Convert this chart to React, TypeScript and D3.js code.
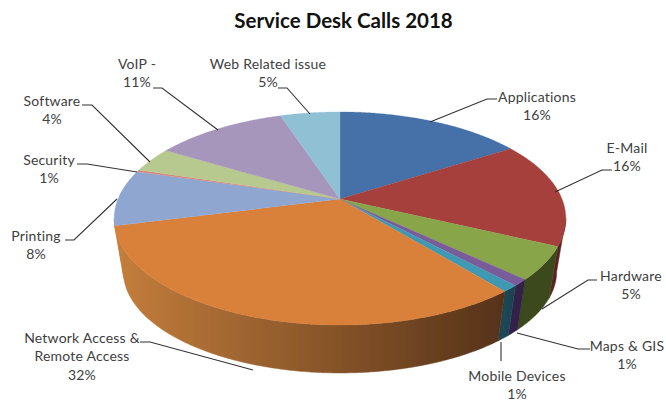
import React from "react";
import * as d3 from "d3";

const categories = ["Applications", "E-Mail", "Hardware", "Maps & GIS", "Mobile Devices", "Network Access & Remote Access", "Printing", "Security", "Software", "VoIP -", "Web Related issue"];
const values = [16, 16, 5, 1, 1, 32, 8.5, 0.3, 3.8, 11.3, 5.1];
const percentLabels = ["16%", "16%", "5%", "1%", "1%", "32%", "8%", "1%", "4%", "11%", "5%"];
const topColors = ["#4470a8", "#a5403e", "#89a54a", "#7a5b9a", "#3f99b3", "#d9803b", "#8fa7d0", "#d58a80", "#b7c98f", "#a696bb", "#8fc0d3"];
const wallStart = ["#4470a8", "#5c2020", "#3a4a1e", "#33234a", "#1c4654", "#c47e3c", "#c47e3c", "#d58a80", "#b7c98f", "#a696bb", "#8fc0d3"];
const wallEnd = ["#4470a8", "#5c2020", "#3a4a1e", "#2e2040", "#1c4250", "#553219", "#c47e3c", "#d58a80", "#b7c98f", "#a696bb", "#8fc0d3"];

type Lay = { x: number; y: number[]; lines: string[]; leader: [number, number][] };
const layout: Lay[] = [
  { x: 537, y: [102, 120], lines: ["Applications"], leader: [[497, 99], [487, 99], [430, 122]] },
  { x: 627, y: [153, 171], lines: ["E-Mail"], leader: [[612, 170], [602, 170], [555, 192]] },
  { x: 631, y: [281, 299], lines: ["Hardware"], leader: [[597, 280], [588, 280], [542, 309]] },
  { x: 627, y: [351, 369], lines: ["Maps & GIS"], leader: [[590, 349], [578, 349], [517, 333]] },
  { x: 517, y: [381, 399], lines: ["Mobile Devices"], leader: [[501, 361], [501, 342]] },
  { x: 82, y: [343, 361, 380], lines: ["Network Access &", "Remote Access"], leader: [[140, 342], [150, 342], [253, 370]] },
  { x: 36, y: [241, 259], lines: ["Printing"], leader: [[65, 240], [74, 240], [117, 199]] },
  { x: 49, y: [165, 183], lines: ["Security"], leader: [[77, 164], [87, 164], [137, 172]] },
  { x: 52, y: [106, 124], lines: ["Software"], leader: [[82, 105], [92, 105], [150, 162]] },
  { x: 137, y: [69, 87], lines: ["VoIP -"], leader: [[153, 88], [162, 88], [218, 130]] },
  { x: 268, y: [69, 87], lines: ["Web Related issue"], leader: [[278, 88], [287, 88], [310, 114]] },
];

const W = 666, H = 401;
const cx = 340, p = 0.183;
const top = { cy: 199, R: 222, S: 103 };
const bottom = { cy: 253, R: 213, S: 98 };
const FONT = "Lato, 'Open Sans', sans-serif";

type Plane = typeof top;
const project = (a: number, pl: Plane): [number, number] => {
  const X = Math.sin(a), Y = Math.cos(a), d = 1 + p * Y;
  return [cx + (pl.R * X) / d, pl.cy - (pl.S * Y) / d];
};
const samples = (a0: number, a1: number) => {
  const n = Math.max(2, Math.ceil((a1 - a0) / 0.01));
  return d3.range(n + 1).map((i) => a0 + ((a1 - a0) * i) / n);
};
const line = d3.line<[number, number]>();

const arcs = d3.pie<number>().sort(null).value((d) => d)(values);
// the wall is only seen between the two silhouette points of the disc
const wallFrom = Math.PI - Math.acos(p);
const wallTo = Math.PI + Math.acos(p);

export default function App() {
  return (
    <svg width={W} height={H} style={{ position: "absolute", left: 0, top: 0, background: "#fff" }} fontFamily={FONT}>
      <defs>
        <filter id="soft" x="-5%" y="-5%" width="110%" height="110%">
          <feGaussianBlur stdDeviation="0.3" />
        </filter>
        {arcs.map((a, i) => {
          const s = Math.max(a.startAngle, wallFrom), e = Math.min(a.endAngle, wallTo);
          if (e <= s) return null;
          const x0 = project(s, top)[0], x1 = project(e, top)[0];
          return (
            <linearGradient key={i} id={`wall${i}`} gradientUnits="userSpaceOnUse" x1={Math.min(x0, x1)} x2={Math.max(x0, x1)} y1={0} y2={0}>
              <stop offset="0" stopColor={wallStart[i]} />
              <stop offset="1" stopColor={wallEnd[i]} />
            </linearGradient>
          );
        })}
      </defs>
      <g filter="url(#soft)">
        {arcs.map((a, i) => {
          const s = Math.max(a.startAngle, wallFrom), e = Math.min(a.endAngle, wallTo);
          if (e <= s) return null;
          const ang = samples(s, e);
          const pts = [...ang.map((t) => project(t, top)), ...ang.slice().reverse().map((t) => project(t, bottom))];
          return <path key={i} d={line(pts)! + "Z"} fill={`url(#wall${i})`} stroke={`url(#wall${i})`} strokeWidth={0.5} />;
        })}
        {arcs.map((a, i) => {
          const pts: [number, number][] = [[cx, top.cy], ...samples(a.startAngle, a.endAngle).map((t) => project(t, top))];
          return <path key={i} d={line(pts)! + "Z"} fill={topColors[i]} stroke={topColors[i]} strokeWidth={0.3} />;
        })}
      </g>
      {layout.map((l, i) => (
        <path key={i} d={line(l.leader)!} fill="none" stroke="#333" strokeWidth={1.1} />
      ))}
      <text x={343.5} y={28} textAnchor="middle" fontSize={20.5} fontWeight={700} fill="#111">Service Desk Calls 2018</text>
      {layout.map((l, i) => (
        <g key={i} fontSize={14} letterSpacing={0.2} fill="#404040" textAnchor="middle">
          {l.lines.map((t, j) => (
            <text key={j} x={l.x} y={l.y[j]}>{t}</text>
          ))}
          <text x={l.x} y={l.y[l.lines.length]}>{percentLabels[i]}</text>
        </g>
      ))}
      <title>{categories.join(", ")}</title>
    </svg>
  );
}
